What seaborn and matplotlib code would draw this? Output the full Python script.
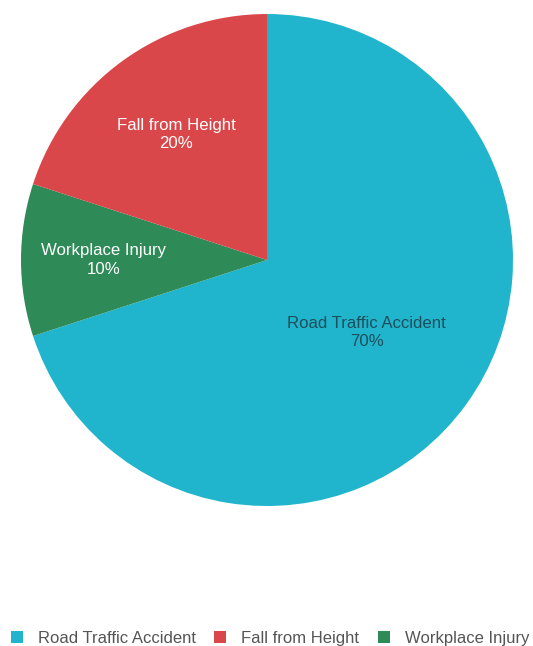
import numpy as np
import matplotlib
matplotlib.use("Agg")
import matplotlib.pyplot as plt
import seaborn as sns
from matplotlib.patches import Patch

sns.set_theme(style="white")
plt.rcParams['font.family'] = ['Liberation Sans', 'DejaVu Sans']

# Injury causes, drawn clockwise from 12 o'clock
categories = ["Road Traffic Accident", "Workplace Injury", "Fall from Height"]
shares = [70, 10, 20]
colors = ["#20b5cc", "#2e8a57", "#d9474a"]
text_colors = ["#1d4f5c", "white", "white"]
legend_order = ["Road Traffic Accident", "Fall from Height", "Workplace Injury"]

# label placement inside each slice: (angle in degrees, fraction of radius)
label_polar = {
    "Road Traffic Accident": (-36, 0.50),
    "Workplace Injury": (180, 0.663),
    "Fall from Height": (126, 0.63),
}

fig = plt.figure(figsize=(5.33, 6.46), dpi=100)
ax = fig.add_axes([0.0394, 0.2167, 0.9231, 0.7616])
wedges, _ = ax.pie(shares, colors=colors, startangle=90, counterclock=False,
                   wedgeprops=dict(linewidth=0))
ax.set_xlim(-1, 1)
ax.set_ylim(-1, 1)
ax.set_aspect("equal")

for cat, val, tc in zip(categories, shares, text_colors):
    ang, r = label_polar[cat]
    x, y = r * np.cos(np.radians(ang)), r * np.sin(np.radians(ang))
    ax.text(x, y, f"{cat}\n{val}%", ha="center", va="center", color=tc,
            fontsize=12.1, linespacing=1.3)

color_map = dict(zip(categories, colors))
handles = [Patch(facecolor=color_map[c], edgecolor="none", label=c) for c in legend_order]
fig.legend(handles=handles, loc="center", bbox_to_anchor=(0.5066, 0.0115), ncol=3,
           frameon=False, fontsize=12, handlelength=0.72, handleheight=0.72,
           columnspacing=1.1, handletextpad=0.9, labelcolor="#555555",
           borderpad=0, borderaxespad=0)

fig.savefig("out.png", dpi=100, facecolor="white")
